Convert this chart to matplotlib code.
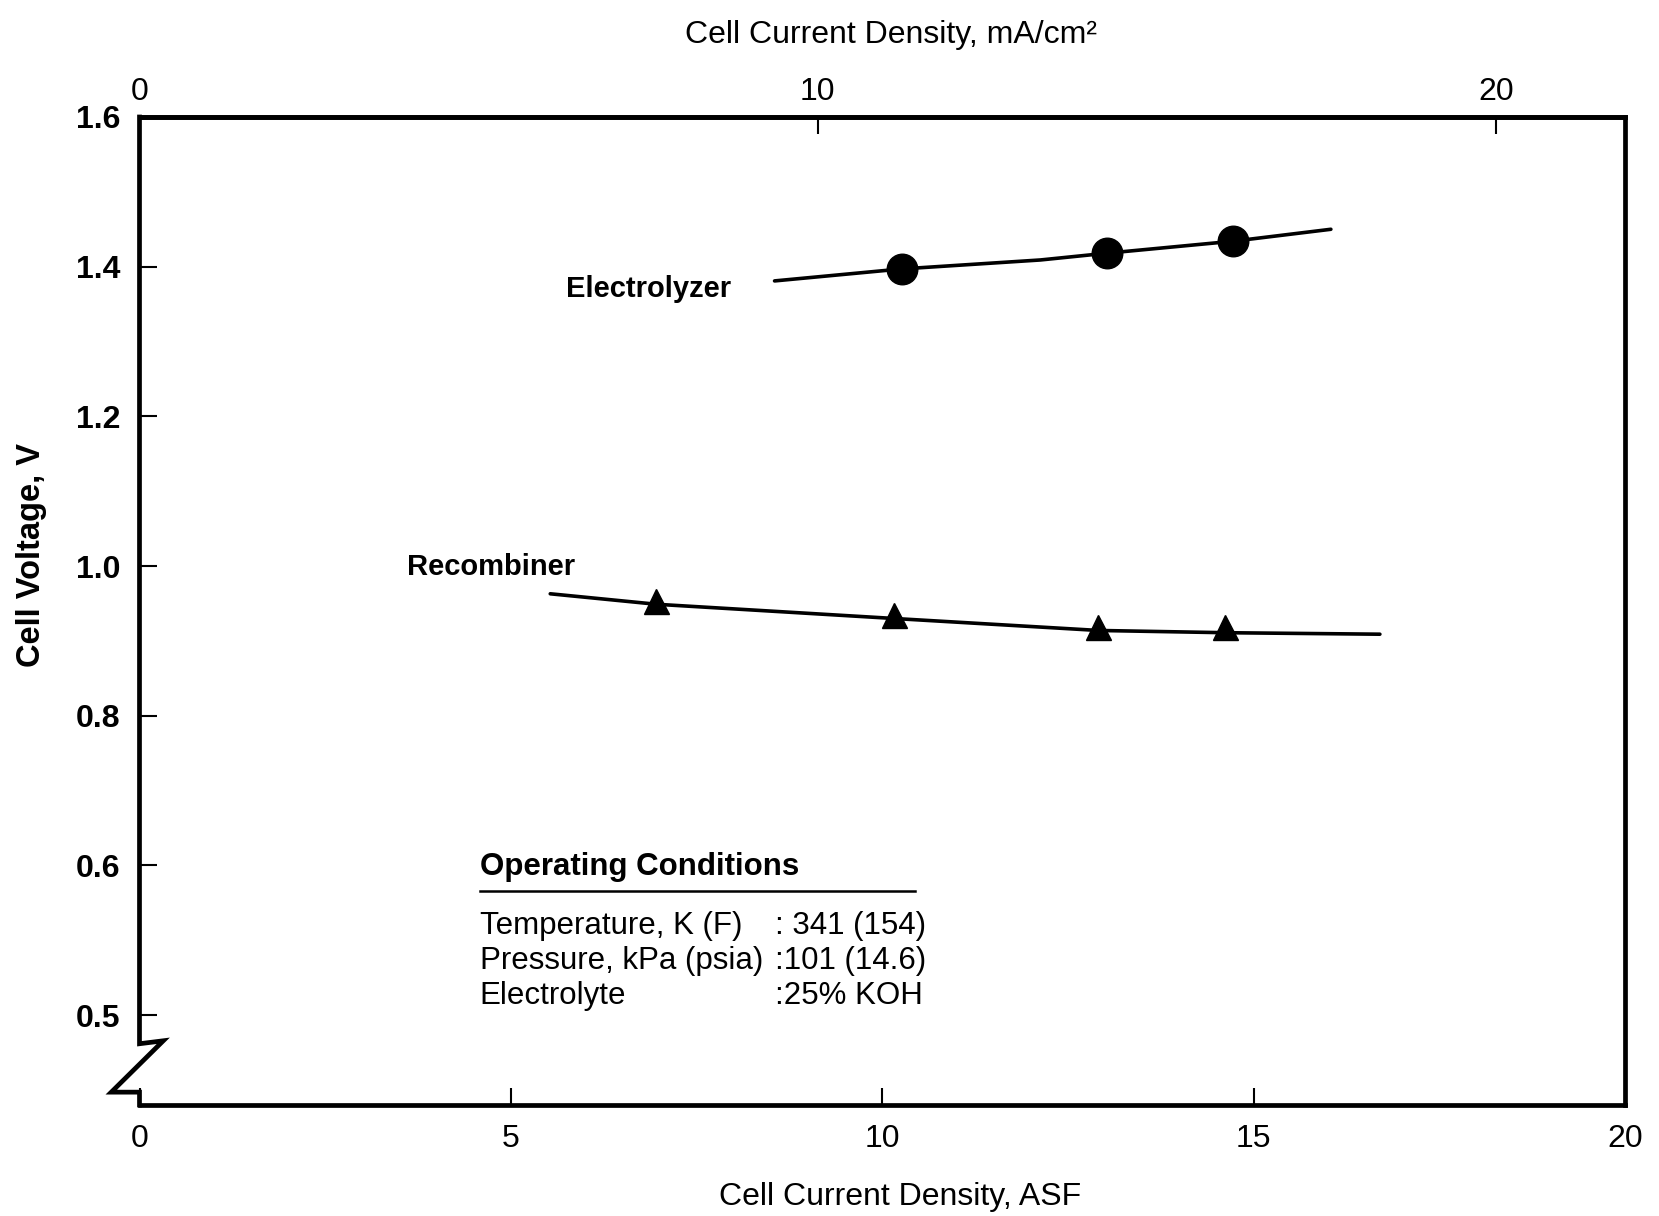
import matplotlib
matplotlib.use("Agg")
import matplotlib.pyplot as plt
from matplotlib.lines import Line2D

plt.rcParams['font.family'] = ['Liberation Sans', 'DejaVu Sans']

# ---------------- data ----------------
asf_ticks = [0, 5, 10, 15, 20]
ma_ticks = [0, 10, 20]
ASF_TO_MA = 1.095           # top-axis scale as drawn (mA/cm2 per ASF)

volt_tick_pos = [0.4, 0.6, 0.8, 1.0, 1.2, 1.4, 1.6]
volt_tick_labels = ['0.5', '0.6', '0.8', '1.0', '1.2', '1.4', '1.6']

elec_x = [10.26, 13.02, 14.72]
elec_v = [1.397, 1.418, 1.434]
elec_curve_x = [8.55, 10.26, 12.13, 13.02, 14.72, 16.04]
elec_curve_v = [1.381, 1.397, 1.409, 1.418, 1.434, 1.450]

rec_x = [6.96, 10.16, 12.91, 14.62]
rec_v = [0.953, 0.935, 0.918, 0.919]
rec_curve_x = [5.53, 6.96, 10.16, 12.91, 14.62, 16.7]
rec_curve_v = [0.963, 0.949, 0.930, 0.914, 0.911, 0.909]

cond_names = ['Temperature, K (F)', 'Pressure, kPa (psia)', 'Electrolyte']
cond_values = [': 341 (154)', ':101 (14.6)', ':25% KOH']

# ---------------- figure ----------------
W, H = 1659, 1216
fig = plt.figure(figsize=(W / 100, H / 100), dpi=100)
ax = fig.add_axes([139.5 / W, 1 - 1105 / H, (1625 - 139.5) / W, 988 / H])

SPINE_LW = 3.4
FS = 23

ax.plot(elec_curve_x, elec_curve_v, color='black', lw=2.6, solid_capstyle='round')
ax.plot(elec_x, elec_v, 'o', color='black', ms=22, zorder=3)
ax.plot(rec_curve_x, rec_curve_v, color='black', lw=2.6, solid_capstyle='round')
ax.plot(rec_x, rec_v, '^', color='black', ms=18, zorder=3)

ax.set_xlim(0, 20)
ax.set_ylim(0.28, 1.6)

ax.set_xticks(asf_ticks)
ax.set_xticklabels([str(t) for t in asf_ticks], fontsize=FS)
ax.set_yticks(volt_tick_pos)
ax.set_yticklabels(volt_tick_labels, fontsize=FS, fontweight='bold')
ax.tick_params(axis='x', direction='in', length=12, width=1.5, pad=14, top=False)
ax.tick_params(axis='y', direction='in', length=12, width=1.5, pad=14, right=False)

for s in ['top', 'right', 'bottom']:
    ax.spines[s].set_linewidth(SPINE_LW)
ax.spines['left'].set_visible(False)

# left spine with axis-break symbol
brk = Line2D([0, 0, 0.016, -0.019, 0.0, 0.0], [1.0, 0.062, 0.065, 0.013, 0.013, 0.0],
             transform=ax.transAxes, color='black', lw=SPINE_LW, clip_on=False,
             solid_joinstyle='miter', solid_capstyle='projecting')
ax.add_line(brk)

# top axis in mA/cm2
sec = ax.secondary_xaxis('top', functions=(lambda x: x * ASF_TO_MA, lambda x: x / ASF_TO_MA))
sec.set_xticks(ma_ticks)
sec.set_xticklabels([str(t) for t in ma_ticks], fontsize=FS)
sec.tick_params(direction='in', length=12, width=1.5, pad=7)
sec.spines['top'].set_linewidth(SPINE_LW)
fig.text(891 / W, 1 - 43 / H, 'Cell Current Density, mA/cm²', fontsize=FS,
         ha='center', va='baseline')

ax.set_xlabel('Cell Current Density, ASF', fontsize=FS)
ax.xaxis.set_label_coords(0.512, -0.078)
ax.set_ylabel('Cell Voltage, V', fontsize=23.5, fontweight='bold')
ax.yaxis.set_label_coords(-0.062, 0.557)

# curve labels
ax.text(0.287, 0.826, 'Electrolyzer', transform=ax.transAxes, fontsize=21,
        fontweight='bold', ha='left', va='center')
ax.text(0.180, 0.545, 'Recombiner', transform=ax.transAxes, fontsize=21,
        fontweight='bold', ha='left', va='center')

# operating conditions block
ax.text(0.229, 0.241, 'Operating Conditions', transform=ax.transAxes, fontsize=22.5,
        fontweight='bold', ha='left', va='center')
ax.add_line(Line2D([0.229, 0.522], [0.217, 0.217], transform=ax.transAxes,
                   color='black', lw=1.8))
row_y = [0.181, 0.146, 0.110]
for name, val, yy in zip(cond_names, cond_values, row_y):
    ax.text(0.229, yy, name, transform=ax.transAxes, fontsize=22.5, ha='left', va='center')
    ax.text(0.428, yy, val, transform=ax.transAxes, fontsize=22.5, ha='left', va='center')

fig.savefig('out.png', dpi=100, facecolor='white')
